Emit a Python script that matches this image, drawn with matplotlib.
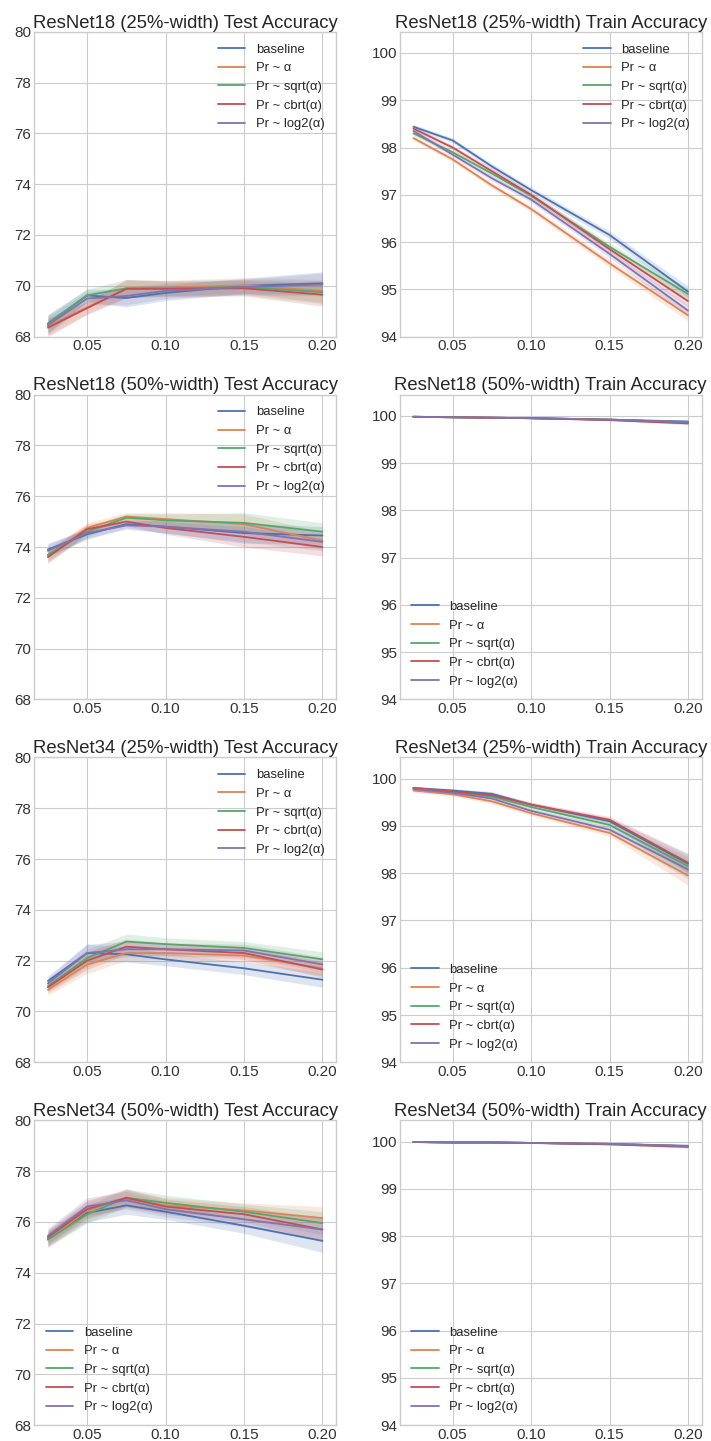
import matplotlib
matplotlib.use("Agg")
import matplotlib.pyplot as plt
import numpy as np

plt.style.use("seaborn-v0_8-whitegrid")
plt.rcParams['font.family'] = ['Liberation Sans', 'DejaVu Sans']

alphas = [0.025, 0.05, 0.075, 0.10, 0.15, 0.20]
series_names = ["baseline", "Pr ~ α", "Pr ~ sqrt(α)", "Pr ~ cbrt(α)", "Pr ~ log2(α)"]
colors = ["#4C72B0", "#DD8452", "#55A868", "#C44E52", "#8172B3"]

titles = [
    "ResNet18 (25%-width) Test Accuracy", "ResNet18 (25%-width) Train Accuracy",
    "ResNet18 (50%-width) Test Accuracy", "ResNet18 (50%-width) Train Accuracy",
    "ResNet34 (25%-width) Test Accuracy", "ResNet34 (25%-width) Train Accuracy",
    "ResNet34 (50%-width) Test Accuracy", "ResNet34 (50%-width) Train Accuracy",
]

# order per panel: baseline, Pr~a, sqrt, cbrt, log2
r18_25_test = [
    [68.52, 69.62, 69.52, 69.72, 70.00, 70.10],
    [68.40, 69.15, 69.90, 69.92, 70.02, 69.80],
    [68.50, 69.62, 69.90, 69.90, 69.95, 69.75],
    [68.35, 69.12, 69.88, 69.88, 69.90, 69.65],
    [68.45, 69.50, 69.60, 69.80, 69.95, 70.05],
]
r18_25_test_band = [0.35, 0.25, 0.35, 0.3, 0.3, 0.45]

r18_25_train = [
    [98.44, 98.15, 97.60, 97.10, 96.15, 94.95],
    [98.20, 97.75, 97.20, 96.70, 95.55, 94.45],
    [98.30, 97.90, 97.45, 96.98, 95.90, 94.90],
    [98.40, 98.00, 97.50, 97.00, 95.85, 94.75],
    [98.35, 97.85, 97.35, 96.90, 95.75, 94.55],
]
r18_25_train_band = [0.05, 0.05, 0.06, 0.06, 0.08, 0.12]

r18_50_test = [
    [73.90, 74.50, 74.90, 74.80, 74.55, 74.45],
    [73.65, 74.75, 75.20, 75.10, 74.90, 74.25],
    [73.70, 74.60, 75.15, 75.05, 74.95, 74.60],
    [73.60, 74.70, 75.00, 74.75, 74.40, 74.00],
    [73.85, 74.55, 74.85, 74.80, 74.60, 74.20],
]
r18_50_test_band = [0.25, 0.2, 0.15, 0.25, 0.4, 0.35]

r18_50_train = [
    [99.98, 99.97, 99.96, 99.95, 99.92, 99.88],
    [99.98, 99.97, 99.96, 99.95, 99.92, 99.86],
    [99.98, 99.97, 99.96, 99.95, 99.92, 99.86],
    [99.98, 99.97, 99.96, 99.95, 99.91, 99.84],
    [99.98, 99.97, 99.96, 99.95, 99.92, 99.86],
]
r18_50_train_band = [0.01, 0.01, 0.01, 0.01, 0.015, 0.03]

r34_25_test = [
    [71.20, 72.30, 72.25, 72.05, 71.70, 71.25],
    [70.85, 71.85, 72.30, 72.30, 72.20, 71.70],
    [71.00, 72.10, 72.75, 72.65, 72.50, 72.05],
    [70.95, 72.00, 72.55, 72.45, 72.30, 71.65],
    [71.10, 72.30, 72.45, 72.45, 72.40, 71.85],
]
r34_25_test_band = [0.2, 0.35, 0.3, 0.25, 0.25, 0.3]

r34_25_train = [
    [99.80, 99.75, 99.68, 99.45, 99.10, 98.20],
    [99.75, 99.67, 99.52, 99.27, 98.85, 97.95],
    [99.80, 99.72, 99.62, 99.40, 99.02, 98.15],
    [99.80, 99.73, 99.65, 99.45, 99.13, 98.22],
    [99.78, 99.70, 99.58, 99.32, 98.92, 98.08],
]
r34_25_train_band = [0.04, 0.04, 0.05, 0.05, 0.07, 0.2]

r34_50_test = [
    [75.35, 76.35, 76.65, 76.40, 75.85, 75.25],
    [75.30, 76.45, 76.90, 76.65, 76.45, 76.15],
    [75.30, 76.30, 76.95, 76.75, 76.40, 75.95],
    [75.40, 76.50, 76.95, 76.60, 76.30, 75.70],
    [75.45, 76.60, 76.85, 76.50, 76.10, 75.70],
]
r34_50_test_band = [0.3, 0.35, 0.35, 0.3, 0.3, 0.45]

r34_50_train = [
    [99.99, 99.98, 99.98, 99.97, 99.95, 99.91],
    [99.99, 99.98, 99.98, 99.97, 99.95, 99.90],
    [99.99, 99.98, 99.98, 99.97, 99.95, 99.90],
    [99.99, 99.98, 99.98, 99.97, 99.94, 99.89],
    [99.99, 99.98, 99.98, 99.97, 99.95, 99.90],
]
r34_50_train_band = [0.01, 0.01, 0.01, 0.01, 0.015, 0.03]

panels = [
    (r18_25_test, r18_25_test_band), (r18_25_train, r18_25_train_band),
    (r18_50_test, r18_50_test_band), (r18_50_train, r18_50_train_band),
    (r34_25_test, r34_25_test_band), (r34_25_train, r34_25_train_band),
    (r34_50_test, r34_50_test_band), (r34_50_train, r34_50_train_band),
]
legend_locs = ["upper right", "upper right", "upper right", "lower left",
               "upper right", "lower left", "lower left", "lower left"]

fig, axes = plt.subplots(4, 2, figsize=(7.11, 14.41), dpi=100)
fig.subplots_adjust(left=0.048, right=0.987, top=0.978, bottom=0.011,
                    wspace=0.21, hspace=0.19)

x = np.array(alphas)
for i, ax in enumerate(axes.flat):
    data, band = panels[i]
    band = np.array(band)
    for s in range(5):
        y = np.array(data[s])
        ax.fill_between(x, y - band, y + band, color=colors[s], alpha=0.18, linewidth=0)
        ax.plot(x, y, color=colors[s], lw=1.3, label=series_names[s])
    ax.set_title(titles[i], fontsize=13.3, pad=3)
    if i % 2 == 0:
        ax.set_ylim(68, 80)
        ax.set_yticks([68, 70, 72, 74, 76, 78, 80])
    else:
        ax.set_ylim(94, 100.45)
        ax.set_yticks([94, 95, 96, 97, 98, 99, 100])
    ax.set_xticks([0.05, 0.10, 0.15, 0.20])
    ax.set_xticklabels(["0.05", "0.10", "0.15", "0.20"])
    ax.tick_params(labelsize=11, colors="#333333", pad=2)
    ax.legend(loc=legend_locs[i], fontsize=9.4, frameon=False, handlelength=2.1)

fig.savefig("out.png", dpi=100)
